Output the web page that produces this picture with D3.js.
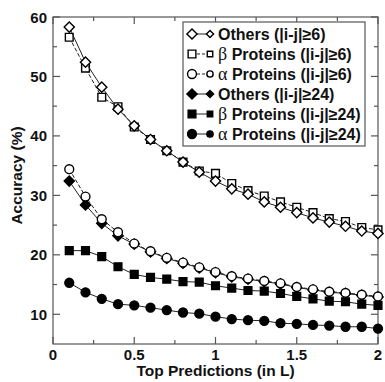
<!DOCTYPE html>
<html>
<head>
<meta charset="utf-8">
<script src="https://cdn.jsdelivr.net/npm/d3@7"></script>
<style>
  body { margin: 0; background: #fff; }
  svg text { font-family: "Liberation Sans", Arial, sans-serif; font-weight: bold; fill: #111; }
</style>
</head>
<body>
<div id="chart"></div>
<script>
const topL = [0.1, 0.2, 0.3, 0.4, 0.5, 0.6, 0.7, 0.8, 0.9, 1.0,
              1.1, 1.2, 1.3, 1.4, 1.5, 1.6, 1.7, 1.8, 1.9, 2.0];

const others6 = [58.3, 52.4, 48.2, 44.5, 41.7, 39.4, 37.5, 35.6, 33.9, 32.4,
                 31.1, 30.2, 28.9, 28.0, 27.1, 26.2, 25.5, 24.8, 24.0, 23.6];
const beta6   = [56.6, 51.4, 46.5, 44.9, 41.5, 39.4, 37.5, 35.6, 34.1, 33.7,
                 32.0, 30.8, 29.9, 28.9, 28.0, 27.1, 26.1, 25.6, 24.6, 24.2];
const alpha6  = [34.4, 29.8, 26.0, 23.8, 21.9, 20.6, 19.5, 18.7, 17.9, 17.1,
                 16.4, 16.0, 15.6, 15.2, 14.6, 14.2, 13.8, 13.6, 13.3, 13.0];
const others24 = [32.4, 28.4, 25.3, 23.2, 21.8, 20.5, 19.4, 18.6, 17.8, 17.0,
                  16.3, 15.9, 15.5, 15.1, 14.5, 14.1, 13.7, 13.5, 13.2, 12.9];
const beta24  = [20.7, 20.7, 19.7, 18.0, 16.7, 16.2, 15.9, 15.5, 15.4, 14.8,
                 14.4, 14.0, 13.9, 13.5, 13.0, 12.6, 12.2, 12.1, 11.7, 11.5];
const alpha24 = [15.3, 13.7, 12.6, 11.7, 11.5, 11.1, 10.7, 10.3, 10.1, 9.6,
                 9.2, 9.0, 8.9, 8.5, 8.4, 8.2, 8.1, 7.9, 7.9, 7.6];

const xTicks = [0, 0.5, 1, 1.5, 2];
const xTickLabels = ['0', '0.5', '1', '1.5', '2'];
const yTicks = [10, 20, 30, 40, 50, 60];

// legend order; draw order is separate so open circles sit over the filled diamonds
const series = [
  {name: 'Others', gap: '6',  values: others6,  shape: 'diamond', filled: false, dashed: false},
  {name: 'β Proteins', gap: '6',  values: beta6,   shape: 'square',  filled: false, dashed: true},
  {name: 'α Proteins', gap: '6',  values: alpha6,  shape: 'circle',  filled: false, dashed: true},
  {name: 'Others', gap: '24', values: others24, shape: 'diamond', filled: true,  dashed: false},
  {name: 'β Proteins', gap: '24', values: beta24,  shape: 'square',  filled: true,  dashed: false},
  {name: 'α Proteins', gap: '24', values: alpha24, shape: 'circle',  filled: true,  dashed: false}
];
const drawOrder = [5, 4, 3, 1, 0, 2];

const width = 385, height = 382;
const margin = {top: 17, right: 7, bottom: 38, left: 53};
const w = width - margin.left - margin.right;
const h = height - margin.top - margin.bottom;

const x = d3.scaleLinear().domain([0, 2]).range([0, w]);
const y = d3.scaleLinear().domain([5, 60]).range([h, 0]);

const svg = d3.select('#chart').append('svg')
  .attr('width', width)
  .attr('height', height);

const g = svg.append('g')
  .attr('transform', `translate(${margin.left}, ${margin.top})`);

function markerPath(shape, scale) {
  if (shape === 'diamond') return d3.symbol(d3.symbolSquare, 52 * scale)();
  if (shape === 'square') return d3.symbol(d3.symbolSquare, 60 * scale)();
  return d3.symbol(d3.symbolCircle, 62 * scale)();
}

function addMarker(sel, s, px, py, scale) {
  sel.append('path')
    .attr('d', markerPath(s.shape, scale))
    .attr('transform', `translate(${px}, ${py})` + (s.shape === 'diamond' ? ' rotate(45)' : ''))
    .attr('fill', s.filled ? '#000' : '#fff')
    .attr('stroke', '#000')
    .attr('stroke-width', 1.4);
}

// axes with inward ticks on all four sides
const frameColor = '#555';
const xMajor = xTicks, xMinor = [0.25, 0.75, 1.25, 1.75];
const yMajor = yTicks, yMinor = [15, 25, 35, 45, 55];

const axisG = g.append('g').attr('stroke', frameColor).attr('stroke-width', 1.2);
xMajor.concat(xMinor).forEach(v => {
  const len = xMajor.includes(v) ? 7 : 4;
  axisG.append('line').attr('x1', x(v)).attr('x2', x(v)).attr('y1', h).attr('y2', h - len);
  axisG.append('line').attr('x1', x(v)).attr('x2', x(v)).attr('y1', 0).attr('y2', len);
});
yMajor.concat(yMinor).forEach(v => {
  const len = yMajor.includes(v) ? 7 : 4;
  axisG.append('line').attr('y1', y(v)).attr('y2', y(v)).attr('x1', 0).attr('x2', len);
  axisG.append('line').attr('y1', y(v)).attr('y2', y(v)).attr('x1', w).attr('x2', w - len);
});
g.append('rect')
  .attr('width', w).attr('height', h)
  .attr('fill', 'none')
  .attr('stroke', frameColor)
  .attr('stroke-width', 1.2);

g.selectAll('.xlab')
  .data(xTicks)
  .join('text')
    .attr('x', d => x(d))
    .attr('y', h + 16)
    .attr('text-anchor', 'middle')
    .attr('font-size', 15)
    .text((d, i) => xTickLabels[i]);

g.selectAll('.ylab')
  .data(yTicks)
  .join('text')
    .attr('x', -6)
    .attr('y', d => y(d) + 5.5)
    .attr('text-anchor', 'end')
    .attr('font-size', 15)
    .text(d => d);

svg.append('text')
  .attr('x', margin.left + w / 2)
  .attr('y', height - 6)
  .attr('text-anchor', 'middle')
  .attr('font-size', 15.5)
  .text('Top Predictions (in L)');

svg.append('text')
  .attr('transform', `translate(22, ${margin.top + h / 2 - 5}) rotate(-90)`)
  .attr('text-anchor', 'middle')
  .attr('font-size', 15.5)
  .text('Accuracy (%)');

// lines and markers
drawOrder.forEach(i => {
  const s = series[i];
  const line = d3.line()
    .x((d, j) => x(topL[j]))
    .y(d => y(d));
  g.append('path')
    .datum(s.values)
    .attr('fill', 'none')
    .attr('stroke', '#222')
    .attr('stroke-width', 1)
    .attr('stroke-dasharray', s.dashed ? '4,2' : null)
    .attr('d', line);
  const mg = g.append('g');
  s.values.forEach((v, j) => addMarker(mg, s, x(topL[j]), y(v), 1));
});

// legend
const legend = svg.append('g').attr('transform', 'translate(183, 22)');
legend.append('rect')
  .attr('width', 182).attr('height', 124)
  .attr('fill', '#fff')
  .attr('stroke', frameColor)
  .attr('stroke-width', 1.2);

series.forEach((s, i) => {
  const ly = 12 + i * 20;
  const row = legend.append('g');
  row.append('line')
    .attr('x1', 9).attr('x2', 27).attr('y1', ly).attr('y2', ly)
    .attr('stroke', '#222')
    .attr('stroke-dasharray', s.dashed ? '3,2' : null);
  addMarker(row, s, 9, ly, 1);
  addMarker(row, s, 27, ly, 0.5);
  const t = row.append('text')
    .attr('x', 35)
    .attr('y', ly + 6)
    .attr('font-size', 16);
  const parts = s.name.split(' ');
  if (parts.length > 1) {
    t.append('tspan')
      .attr('font-family', '"Liberation Serif", "DejaVu Serif", serif')
      .attr('font-weight', 'normal')
      .attr('font-size', 18)
      .text(parts[0] + ' ');
    t.append('tspan').text(parts[1] + ' ');
  } else {
    t.append('tspan').text(s.name + ' ');
  }
  t.append('tspan').text(`(|i-j|≥${s.gap})`);
});
</script>
</body>
</html>
